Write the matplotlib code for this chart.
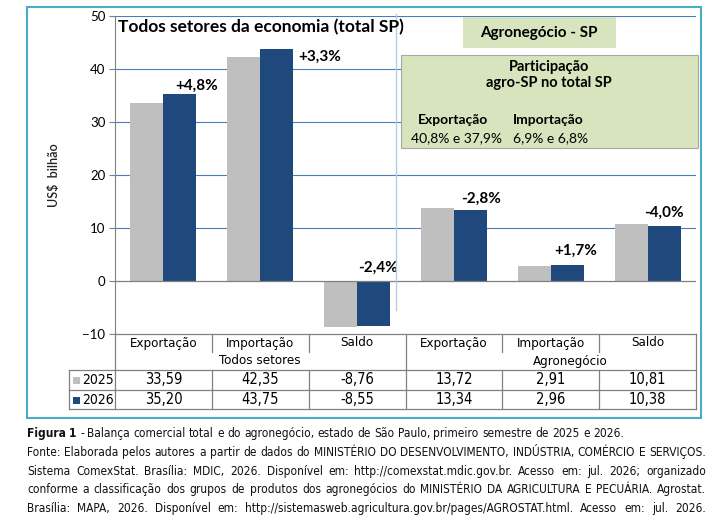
import matplotlib
matplotlib.use("Agg")
import matplotlib.pyplot as plt
from matplotlib import font_manager
from matplotlib.patches import Rectangle

# data
categories = ["Exportação", "Importação", "Saldo", "Exportação", "Importação", "Saldo"]
groups = ["Todos setores", "Agronegócio"]
years = ["2025", "2026"]
values_2025 = [33.59, 42.35, -8.76, 13.72, 2.91, 10.81]
values_2026 = [35.20, 43.75, -8.55, 13.34, 2.96, 10.38]
y_ticks = [-10, 0, 10, 20, 30, 40, 50]
share_export = "40,8% e 37,9%"
share_import = "6,9% e 6,8%"

caption = [
    "Figura 1 - Balança comercial total e do agronegócio, estado de São Paulo, primeiro semestre de 2025 e 2026.",
    "Fonte: Elaborada pelos autores a partir de dados do MINISTÉRIO DO DESENVOLVIMENTO, INDÚSTRIA, COMÉRCIO E SERVIÇOS.",
    "Sistema ComexStat. Brasília: MDIC, 2026. Disponível em: http://comexstat.mdic.gov.br. Acesso em: jul. 2026; organizado",
    "conforme a classificação dos grupos de produtos dos agronegócios do MINISTÉRIO DA AGRICULTURA E PECUÁRIA. Agrostat.",
    "Brasília: MAPA, 2026. Disponível em: http://sistemasweb.agricultura.gov.br/pages/AGROSTAT.html. Acesso em: jul. 2026.",
]

GRAY = "#BFBFBF"
NAVY = "#1F497D"
GREEN = "#D7E4BD"
CYAN = "#4BACC6"
LINE = "#808080"

# narrow font for table and caption, if one is around
fonts = font_manager.fontManager.ttflist
if any(f.name == "DejaVu Sans" and f.stretch == "condensed" for f in fonts):
    narrow = dict(family="DejaVu Sans", stretch="condensed")
elif any(f.name == "Liberation Sans Narrow" for f in fonts):
    narrow = dict(family="Liberation Sans Narrow")
else:
    narrow = dict(family="Lato")
plt.rcParams["font.family"] = ["Lato", "DejaVu Sans"]

W, H = 727, 525
fig = plt.figure(figsize=(W / 100, H / 100), dpi=100)

# plot area in pixels
PL, PR, PT, PB = 115, 696, 16, 334
ax = fig.add_axes([PL / W, 1 - PB / H, (PR - PL) / W, (PB - PT) / H])

x = [i + 0.5 for i in range(len(categories))]
bw = 0.34
ax.bar([i - bw / 2 for i in x], values_2025, bw, color=GRAY, zorder=3)
ax.bar([i + bw / 2 for i in x], values_2026, bw, color=NAVY, zorder=3)

ax.set_xlim(0, len(categories))
ax.set_ylim(-10, 50)
ax.set_yticks(y_ticks)
ax.set_xticks([])
ax.tick_params(axis="y", length=4, color=LINE, labelsize=9.5, pad=3)
for g in y_ticks[2:]:
    ax.axhline(g, color="#4A7EBB", lw=0.8, zorder=1)
ax.axhline(0, color=LINE, lw=0.9, zorder=4)
for s in ["top", "right", "bottom"]:
    ax.spines[s].set_visible(False)
ax.spines["left"].set_color(LINE)
ax.set_ylabel("US$  bilhão", fontsize=9, fontweight="semibold", labelpad=16, color="#222222")

# percent change labels (offsets in pixels from top of 2026 bar)
offsets = [(17, 9), (43, -8), (4, 13), (11, 12), (8, 15), (0, 13)]
for i, (a, b) in enumerate(zip(values_2025, values_2026)):
    pct = (b / a - 1) * 100
    txt = f"{pct:+.1f}%".replace(".", ",")
    ax.annotate(txt, xy=(x[i] + bw / 2, max(b, 0)), xytext=offsets[i],
                textcoords="offset pixels", ha="center", va="center",
                fontsize=11, fontweight="bold", zorder=6)

# overlay in pixel coordinates for boxes, table, border and caption
ov = fig.add_axes([0, 0, 1, 1])
ov.set_xlim(0, W)
ov.set_ylim(H, 0)
ov.axis("off")
ov.patch.set_alpha(0)

ov.text(118, 27, "Todos setores da economia (total SP)", fontsize=12.5,
        fontweight="bold", va="center", ha="left")
ov.plot([396, 396], [14, 310], color="#B8CCE4", lw=1)

ov.add_patch(Rectangle((463, 17), 153, 31, facecolor=GREEN, edgecolor="none"))
ov.text(539, 33, "Agronegócio - SP", fontsize=11, fontweight="bold", ha="center", va="center")
ov.add_patch(Rectangle((401, 55), 297, 93, facecolor=GREEN, edgecolor="#A6A6A6", lw=0.8))
ov.text(549, 75, "Participação\nagro-SP no total SP", fontsize=10.5, fontweight="bold",
        ha="center", va="center", linespacing=1.1)
ov.text(418, 120, "Exportação", fontsize=10, fontweight="bold", va="center")
ov.text(513, 120, "Importação", fontsize=10, fontweight="bold", va="center")
ov.text(411, 138, share_export, fontsize=10, va="center")
ov.text(513, 138, share_import, fontsize=10, va="center")

# table under the chart
col_w = (PR - PL) / len(categories)
edges = [PL + k * col_w for k in range(len(categories) + 1)]
tk = dict(color=LINE, lw=0.9)
ov.plot([PL, PR], [334, 334], **tk)
for yy in [370, 390, 409]:
    ov.plot([69, PR], [yy, yy], **tk)
ov.plot([69, 69], [370, 409], **tk)
for k, ex in enumerate(edges):
    if k in (0, 3, 6):
        ov.plot([ex, ex], [334, 409], **tk)
    else:
        ov.plot([ex, ex], [334, 352], **tk)
        ov.plot([ex, ex], [370, 409], **tk)
tf = dict(fontsize=9.5, ha="center", va="center", **narrow)
for i, c in enumerate(categories):
    ov.text(PL + (i + 0.5) * col_w, 343, c, **tf)
ov.text((edges[0] + edges[3]) / 2, 361, groups[0], **tf)
ov.text((edges[3] + edges[6]) / 2 + 20, 361, groups[1], **tf)
for r, (yr, vals, col) in enumerate(zip(years, [values_2025, values_2026], [GRAY, NAVY])):
    yy = 380 + r * 20
    ov.add_patch(Rectangle((73, yy - 3.5), 7, 7, facecolor=col, edgecolor="none"))
    ov.text(82, yy, yr, fontsize=10, va="center", **narrow)
    for i, v in enumerate(vals):
        ov.text(PL + (i + 0.5) * col_w, yy, f"{v:.2f}".replace(".", ","),
                fontsize=10.5, ha="center", va="center", **narrow)

ov.add_patch(Rectangle((27, 7), 674, 411, facecolor="none", edgecolor=CYAN, lw=1.5))

# caption, justified except the first line
renderer = fig.canvas.get_renderer()
cap_x0, cap_x1 = 27, 706


def width_of(s, fs, **kw):
    t = ov.text(0, 0, s, fontsize=fs, **narrow, **kw)
    w = t.get_window_extent(renderer).width
    t.remove()
    return w


cap_fs = 9.2
longest = max(width_of(line, cap_fs) for line in caption)
if longest > (cap_x1 - cap_x0) * 0.99:
    cap_fs = cap_fs * (cap_x1 - cap_x0) * 0.99 / longest
space = width_of("a a", cap_fs) - width_of("aa", cap_fs)

for n, line in enumerate(caption):
    yy = 437 + round(n * 18.8)
    words = line.split(" ")
    texts = []
    for j, w in enumerate(words):
        bold = n == 0 and j < 2
        texts.append(ov.text(0, yy, w, fontsize=cap_fs, va="baseline",
                             fontweight="bold" if bold else "normal",
                             color="#111111", **narrow))
    widths = [t.get_window_extent(renderer).width for t in texts]
    gap = space if n == 0 else (cap_x1 - cap_x0 - sum(widths)) / (len(words) - 1)
    pos = cap_x0
    for t, w in zip(texts, widths):
        t.set_x(pos)
        pos += w + gap

fig.savefig("out.png", dpi=100)
